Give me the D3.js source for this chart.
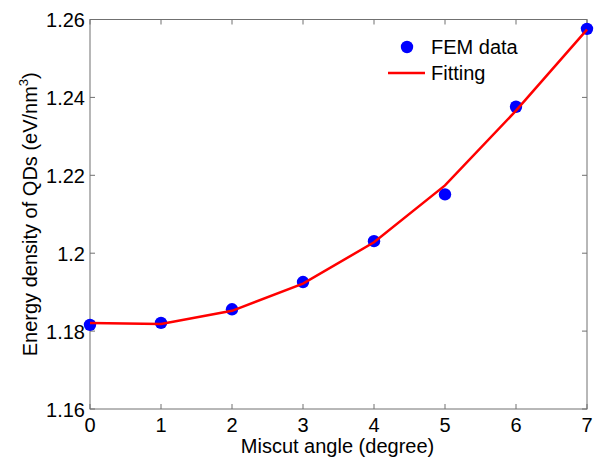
<!DOCTYPE html>
<html>
<head>
<meta charset="utf-8">
<script src="https://cdn.jsdelivr.net/npm/d3@7"></script>
<style>
  body { margin: 0; background: #fff; }
  svg text { font-family: "Liberation Sans", Arial, sans-serif; fill: #000; }
</style>
</head>
<body>
<svg id="chart" width="602" height="457"></svg>
<script>
var angles = [0, 1, 2, 3, 4, 5, 6, 7];
var femData = [1.1816, 1.1821, 1.1856, 1.1926, 1.2031, 1.2151, 1.2376, 1.2576];
var fitData = [1.1821, 1.1818, 1.1852, 1.1922, 1.2028, 1.2174, 1.2366, 1.2574];
var xTicks = [0, 1, 2, 3, 4, 5, 6, 7];
var yTicks = [1.16, 1.18, 1.2, 1.22, 1.24, 1.26];
var yTickLabels = ["1.16", "1.18", "1.2", "1.22", "1.24", "1.26"];

var plotL = 90, plotR = 587, plotT = 19.5, plotB = 409;
var svg = d3.select("#chart");

var x = d3.scaleLinear().domain([0, 7]).range([plotL, plotR]);
var y = d3.scaleLinear().domain([1.16, 1.26]).range([plotB, plotT]);

var axisColor = "#707070";
var fs = 20;

// frame
svg.append("rect")
  .attr("x", plotL).attr("y", plotT)
  .attr("width", plotR - plotL).attr("height", plotB - plotT)
  .attr("fill", "none").attr("stroke", axisColor).attr("stroke-width", 1);

// ticks (inward, mirrored on top and right)
var tl = 5;
xTicks.forEach(function(t) {
  svg.append("line").attr("x1", x(t)).attr("x2", x(t))
    .attr("y1", plotB).attr("y2", plotB - tl).attr("stroke", axisColor);
  svg.append("line").attr("x1", x(t)).attr("x2", x(t))
    .attr("y1", plotT).attr("y2", plotT + tl).attr("stroke", axisColor);
  svg.append("text").attr("x", x(t)).attr("y", 432)
    .attr("text-anchor", "middle").attr("font-size", fs).text(t);
});
yTicks.forEach(function(t, i) {
  svg.append("line").attr("x1", plotL).attr("x2", plotL + tl)
    .attr("y1", y(t)).attr("y2", y(t)).attr("stroke", axisColor);
  svg.append("line").attr("x1", plotR).attr("x2", plotR - tl)
    .attr("y1", y(t)).attr("y2", y(t)).attr("stroke", axisColor);
  svg.append("text").attr("x", 85).attr("y", y(t) + 7.6)
    .attr("text-anchor", "end").attr("font-size", fs).text(yTickLabels[i]);
});

// axis labels
svg.append("text").attr("x", (plotL + plotR) / 2 - 1).attr("y", 453)
  .attr("text-anchor", "middle").attr("font-size", fs).text("Miscut angle (degree)");

var yl = svg.append("text")
  .attr("transform", "translate(37," + ((plotT + plotB) / 2) + ") rotate(-90)")
  .attr("text-anchor", "middle").attr("font-size", fs);
yl.append("tspan").text("Energy density of QDs (eV/nm");
yl.append("tspan").attr("font-size", 13).attr("dy", -9).text("3");
yl.append("tspan").attr("dy", 9).text(")");

// fitting line
var line = d3.line()
  .x(function(d) { return x(d); })
  .y(function(d, i) { return y(fitData[i]); });

// data markers
svg.selectAll("circle.fem")
  .data(angles)
  .enter()
  .append("circle")
  .attr("class", "fem")
  .attr("cx", function(d) { return x(d); })
  .attr("cy", function(d, i) { return y(femData[i]); })
  .attr("r", 6.2)
  .attr("fill", "#0000ff");

svg.append("path")
  .attr("d", line(angles))
  .attr("fill", "none")
  .attr("stroke", "#ff0000")
  .attr("stroke-width", 2.5);

// legend
svg.append("circle").attr("cx", 407).attr("cy", 47).attr("r", 6.2).attr("fill", "#0000ff");
svg.append("text").attr("x", 431).attr("y", 54).attr("font-size", fs).text("FEM data");
svg.append("line").attr("x1", 388).attr("x2", 425).attr("y1", 73).attr("y2", 73)
  .attr("stroke", "#ff0000").attr("stroke-width", 2.5);
svg.append("text").attr("x", 431).attr("y", 80).attr("font-size", fs).text("Fitting");
</script>
</body>
</html>
